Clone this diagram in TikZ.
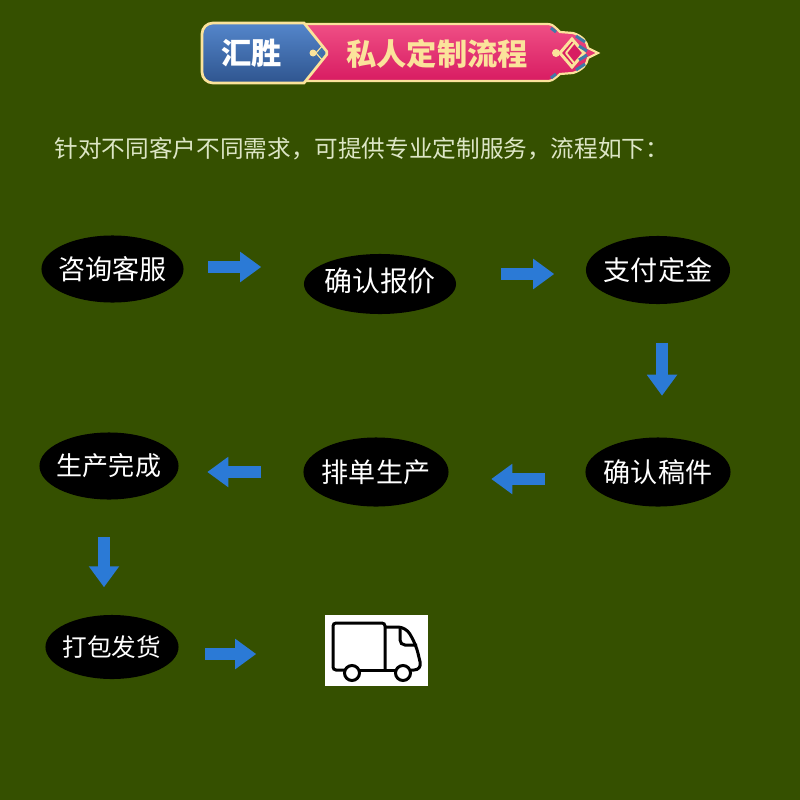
\documentclass[tikz,border=0pt]{standalone}
\usepackage{fontspec}
\usepackage{xcolor}
\setmainfont{Noto Sans CJK SC}
\usetikzlibrary{shapes,arrows.meta,positioning,calc}

\definecolor{bgGreen}{HTML}{355000}
\definecolor{flowBlue}{HTML}{2B7AD6}
\definecolor{bannerCream}{HTML}{FBE39B}
\definecolor{subText}{HTML}{DDE6C6}
\definecolor{pinkTop}{HTML}{EF4F85}
\definecolor{pinkBottom}{HTML}{D81C62}
\definecolor{blueTop}{HTML}{5486CB}
\definecolor{blueBottom}{HTML}{2F558F}
\definecolor{ornamentBlue}{HTML}{3F7AA8}

\tikzset{
    stepnode/.style={ellipse, fill=black, text=white, inner ysep=0pt, inner xsep=-.15cm, font=\fontsize{7.7pt}{9pt}\selectfont},
    flowarrow/.style={draw=flowBlue, line width=.115cm, -{Triangle[length=.21cm, width=.29cm]}},
    truckline/.style={draw=black, line width=.03cm, rounded corners=.03cm}
}

\begin{document}
\begin{tikzpicture}[x=.01cm, y=-.01cm]
    \useasboundingbox (0,0) rectangle (800,800);
    \fill[bgGreen] (0,0) rectangle (800,800);

    % Banner, pink part
    \draw[bannerCream, line width=.022cm, top color=pinkTop, bottom color=pinkBottom]
        (300,24) -- (545,24) .. controls (552,24) .. (560,32) -- (573,33)
        .. controls (583,36) and (587,42) .. (588,48) -- (598,53) -- (588,58)
        .. controls (587,64) and (583,70) .. (573,73) -- (560,74)
        .. controls (552,81) .. (545,81) -- (300,81) -- cycle;

    % Banner, blue part
    \draw[bannerCream, line width=.027cm, top color=blueTop, bottom color=blueBottom]
        (304,83) [rounded corners=.11cm] -- (202,83) -- (202,23) [sharp corners] -- (304,23)
        [rounded corners=.02cm] -- (328,53) [sharp corners] -- cycle;

    % Ornaments
    \fill[bannerCream] (313,53) circle (3.5);
    \draw[bannerCream, line width=.012cm] (316,53) -- (323,45);
    \draw[bannerCream, line width=.012cm] (316,53) -- (323,61);
    \draw[ornamentBlue, line width=.018cm] (319,53) -- (322,49);
    \draw[ornamentBlue, line width=.018cm] (319,53) -- (322,57);
    \fill[bannerCream] (556,53) circle (4);
    \draw[bannerCream, line width=.03cm, fill=pinkBottom]
        (560,53) -- (572,39) -- (584,53) -- (572,67) -- cycle;
    \draw[bannerCream, line width=.02cm] (566,53) -- (574,43);
    \draw[bannerCream, line width=.02cm] (566,53) -- (574,63);
    \draw[ornamentBlue, line width=.03cm] (576,36) -- (585,42);
    \draw[ornamentBlue, line width=.03cm] (579,46) -- (587,51);
    \draw[ornamentBlue, line width=.03cm] (579,60) -- (587,55);
    \draw[ornamentBlue, line width=.03cm] (576,70) -- (585,64);
    \draw[ornamentBlue, line width=.03cm] (551,28) -- (556,32);
    \draw[ornamentBlue, line width=.03cm] (551,78) -- (556,74);

    \node[font=\fontsize{8.6pt}{10pt}\selectfont\bfseries, text=white] (brand) at (251.5,53) {汇胜};
    \node[font=\fontsize{8.6pt}{10pt}\selectfont\bfseries, text=bannerCream] (title) at (437,54) {私人定制流程};

    % Intro line
    \node[right, inner sep=0pt, text=subText, font=\fontsize{6.72pt}{8pt}\selectfont] (intro) at (54,148.5)
        {针对不同客户不同需求，可提供专业定制服务，流程如下：};

    % Steps
    \node[stepnode, minimum width=1.42cm, minimum height=.67cm] (consult) at (112.5,269) {咨询客服};
    \node[stepnode, minimum width=1.52cm, minimum height=.60cm, font=\fontsize{7.95pt}{9pt}\selectfont] (quote) at (380,284) {\raisebox{.08cm}{确认报价}};
    \node[stepnode, minimum width=1.44cm, minimum height=.68cm] (deposit) at (658,270) {支付定金};
    \node[stepnode, minimum width=1.45cm, minimum height=.69cm] (draft) at (658,472) {确认稿件};
    \node[stepnode, minimum width=1.45cm, minimum height=.69cm] (queue) at (376,472) {排单生产};
    \node[stepnode, minimum width=1.39cm, minimum height=.67cm, font=\fontsize{7.4pt}{9pt}\selectfont] (finish) at (109,466) {生产完成};
    \node[stepnode, minimum width=1.33cm, minimum height=.64cm, font=\fontsize{7pt}{9pt}\selectfont] (ship) at (112,647) {打包发货};
    \node[fill=white, inner sep=0pt, minimum width=1.03cm, minimum height=.71cm] (truck) at (376.5,650.5) {};

    % Arrows
    \draw[flowarrow, shorten <=.235cm, shorten >=.42cm] ([yshift=.02cm]consult.east) -- ([yshift=.02cm]consult.east -| quote.west);
    \draw[flowarrow, shorten <=.44cm, shorten >=.31cm] ([yshift=.10cm]quote.east) -- ([yshift=.10cm]quote.east -| deposit.west);
    \draw[flowarrow, shorten <=.38cm, shorten >=.41cm] ([xshift=.04cm]deposit.south) -- ([xshift=.04cm]deposit.south |- draft.north);
    \draw[flowarrow, shorten <=.40cm, shorten >=.42cm] ([yshift=-.07cm]draft.west) -- ([yshift=-.07cm]draft.west -| queue.east);
    \draw[flowarrow, shorten <=.42cm, shorten >=.28cm] (queue.west) -- (queue.west -| finish.east);
    \draw[flowarrow, shorten <=.37cm, shorten >=.27cm] ([xshift=-.05cm]finish.south) -- ([xshift=-.05cm]finish.south |- ship.north);
    \draw[flowarrow, shorten <=.26cm, shorten >=.68cm] ([yshift=-.07cm]ship.east) -- ([yshift=-.07cm]ship.east -| truck.west);

    % Truck
    \draw[truckline] (345,670) -- (333,670) -- (333,623) -- (385,623) -- (385,670);
    \draw[truckline] (360,670) -- (395,670);
    \draw[draw=black, line width=.03cm, rounded corners=.08cm] (385,627) -- (406,627) -- (416,645) -- (422,670) -- (411,670);
    \draw[truckline, rounded corners=.05cm] (400,628) -- (400,645) -- (417,645);
    \draw[draw=black, line width=.03cm, fill=white] (352,673) circle (7.5);
    \draw[draw=black, line width=.03cm, fill=white] (403,673) circle (7.5);
\end{tikzpicture}
\end{document}
